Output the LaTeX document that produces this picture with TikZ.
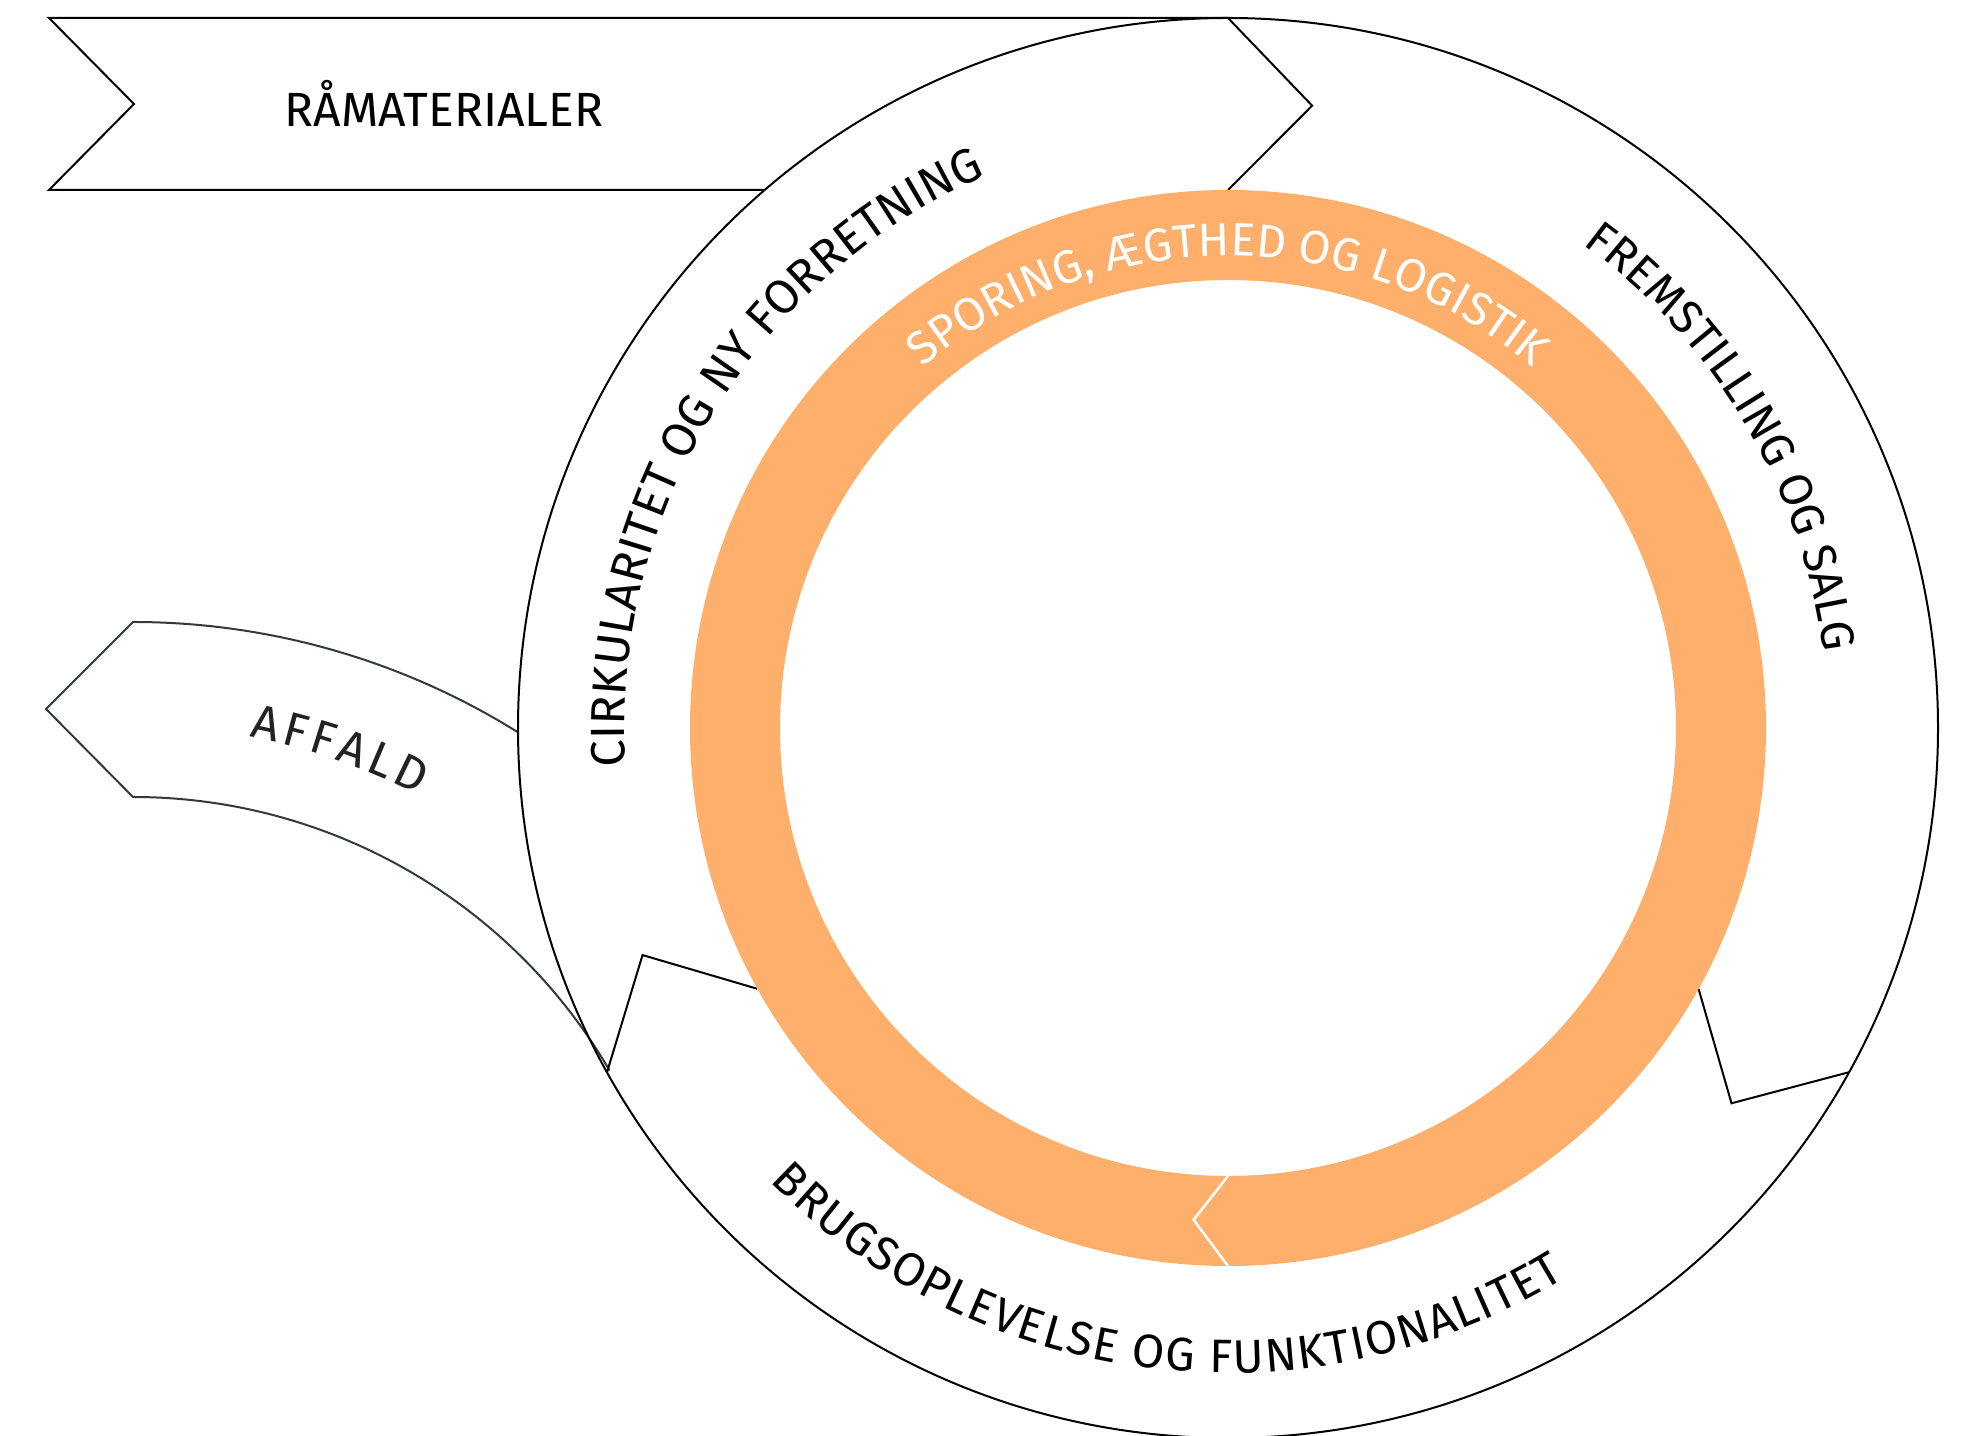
\documentclass[tikz,border=0pt]{standalone}
\usepackage{fontspec}
\setmainfont{Fira Sans}
\usetikzlibrary{decorations.text}

\definecolor{ringorange}{RGB}{253,175,107}
\definecolor{slate}{RGB}{50,58,62}
\definecolor{wastetext}{RGB}{34,34,34}

\newcommand\labelfont{\fontsize{48}{56}\selectfont}
\newcommand\arcfont{\fontsize{48}{56}\selectfont}
\newcommand\arcfontright{\fontsize{46.5}{54}\selectfont}
\newcommand\arcfontbottom{\fontsize{47}{55}\selectfont}
\newcommand\arcfontwhite{\fontsize{46.5}{54}\selectfont\color{white}}
\newcommand\arcfontwaste{\fontsize{48}{56}\selectfont\color{wastetext}}

\begin{document}
\begin{tikzpicture}[x=1pt,y=1pt,
  outline/.style={draw=black, line width=2pt, line join=miter},
  wasteline/.style={draw=slate, line width=2pt, line join=miter},
  notch/.style={draw=white, line width=2.5pt, line join=miter},
  arctext/.style={decorate, decoration={text along path, text align=center, text={#1}}},
  fittext/.style={decorate, decoration={text along path, text align=fit to path, text={#1}}}]

\useasboundingbox (0,0) rectangle (1962,1435);
\fill[white] (0,0) rectangle (1962,1435);

% centres of the cycle and of the waste band
\coordinate (C) at (1228,707);
\coordinate (P) at (133,86);

% waste arrow leaving the cycle to the left
\coordinate (wtip) at (46,726);
\draw[wasteline] ([shift={(58.04:727)}]P) arc[start angle=58.04, end angle=90, radius=727]
  -- (wtip) -- ([shift={(90:552)}]P) arc[start angle=90, end angle=30.3, radius=552];

% raw material arrow entering at the top
\coordinate (rbl) at (764.7,1245);
\coordinate (rb) at (49,1245);
\coordinate (rn) at (134,1331);
\coordinate (rt) at (49,1417);
\coordinate (rtr) at (1228,1417);
\draw[outline] (rbl) -- (rb) -- (rn) -- (rt) -- (rtr);

% outer cycle
\draw[outline] (C) circle[radius=710];

% arrow tips between the three segments of the cycle
\draw[outline] ([shift={(90:710)}]C) -- ([shift={(82.3:628)}]C) -- ([shift={(90:538)}]C);
\draw[outline] ([shift={(-29:538)}]C) -- ([shift={(-36.7:628)}]C) -- ([shift={(-29:710)}]C);
\draw[outline] ([shift={(209:538)}]C) -- ([shift={(201.2:628)}]C) -- ([shift={(209:710)}]C);

% inner orange ring with its own arrow head at the bottom
\fill[ringorange, even odd rule] (C) circle[radius=538] (C) circle[radius=448];
\draw[notch] ([shift={(-90:448)}]C) -- ([shift={(-94:493)}]C) -- ([shift={(-90:538)}]C);

% labels
\node[anchor=base, font=\labelfont, inner sep=0pt] (raw) at (444,1308) {RÅMATERIALER};

\begin{scope}[shift={(C)}]
  \path[arctext={|\arcfont|CIRKULARITET OG NY FORRETNING}]
    (193.65:603) arc[start angle=193.65, end angle=103.65, radius=603];
  \path[arctext={|\arcfontright|FREMSTILLING OG SALG}]
    (60.5:600) arc[start angle=60.5, end angle=0.5, radius=600];
  \path[fittext={|\arcfontbottom|BRUGSOPLEVELSE OG FUNKTIONALITET}]
    (-135.3:645) arc[start angle=-135.3, end angle=-58.5, radius=645];
  \path[arctext={|\arcfontwhite|SPORING, ÆGTHED OG LOGISTIK}]
    (140:472) arc[start angle=140, end angle=40, radius=472];
\end{scope}

\begin{scope}[shift={(P)}]
  \path[fittext={|\arcfontwaste|AFFALD}]
    (79.2:623) arc[start angle=79.2, end angle=62.8, radius=623];
\end{scope}

\end{tikzpicture}
\end{document}
